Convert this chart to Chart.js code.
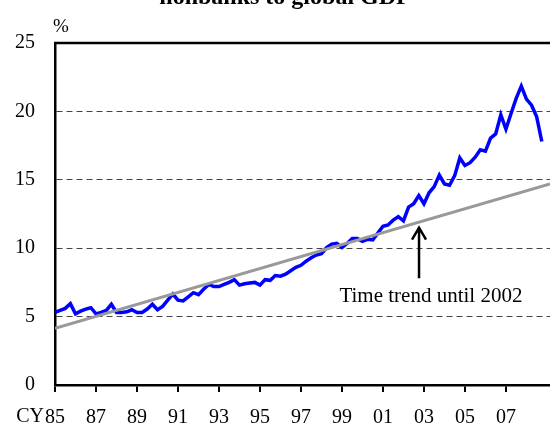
<!DOCTYPE html>
<html>
<head>
<meta charset="utf-8">
<script src="https://cdn.jsdelivr.net/npm/chart.js@4.4.1/dist/chart.umd.min.js"></script>
<style>
  body { margin: 0; background: #fff; }
  canvas { display: block; }
</style>
</head>
<body>
<canvas id="chart" width="550" height="426"></canvas>
<script>
// quarterly data, 1985Q1 .. 2008Q4
const firstYear = 1985;
const lastYear = 2008;
const ratio = [
  5.3, 5.45, 5.6, 5.95, 5.2, 5.4, 5.55, 5.65,
  5.2, 5.3, 5.45, 5.9, 5.3, 5.3, 5.35, 5.5,
  5.3, 5.3, 5.55, 5.9, 5.5, 5.75, 6.2, 6.65,
  6.2, 6.15, 6.45, 6.75, 6.6, 7.0, 7.35, 7.2,
  7.2, 7.35, 7.5, 7.7, 7.3, 7.4, 7.45, 7.5,
  7.3, 7.7, 7.65, 8.0, 7.95, 8.1, 8.35, 8.6,
  8.75, 9.05, 9.3, 9.5, 9.6, 10.05, 10.3, 10.35,
  10.05, 10.35, 10.7, 10.7, 10.5, 10.65, 10.6, 11.1,
  11.6, 11.7, 12.05, 12.3, 12.0, 13.0, 13.25, 13.85,
  13.25, 14.05, 14.5, 15.35, 14.7, 14.6, 15.3, 16.6,
  16.05, 16.25, 16.65, 17.2, 17.1, 18.05, 18.35, 19.75,
  18.7, 19.85, 20.95, 21.85, 20.9, 20.45, 19.6, 17.8
];

// linear time trend fitted until 2002 (end points)
const trendYears = [1985, 2009.15];
const trendValues = [4.15, 14.7];

const xTickYears = [1985, 1987, 1989, 1991, 1993, 1995, 1997, 1999, 2001, 2003, 2005, 2007];
const yTicks = [0, 5, 10, 15, 20, 25];

const quarters = [];
for (let y = firstYear; y <= lastYear; y++) {
  for (let q = 0; q < 4; q++) quarters.push(y + q / 4);
}

const serif = "'Liberation Serif', 'Times New Roman', serif";

const extras = {
  id: 'extras',
  afterDraw(chart) {
    const { ctx, chartArea, scales } = chart;
    const x = scales.x, y = scales.y;
    ctx.save();

    // top frame line
    ctx.strokeStyle = '#000';
    ctx.lineWidth = 2.5;
    ctx.beginPath();
    ctx.moveTo(chartArea.left - 1, chartArea.top);
    ctx.lineTo(chartArea.right, chartArea.top);
    ctx.stroke();

    // title, second line only (cut off at top)
    ctx.fillStyle = '#000';
    ctx.font = 'bold 24px ' + serif;
    ctx.textAlign = 'center';
    ctx.textBaseline = 'alphabetic';
    ctx.fillText('nonbanks to global GDP', 285, 4);

    // unit label
    ctx.font = '19px ' + serif;
    ctx.textAlign = 'left';
    ctx.fillText('%', 53, 32);

    // "CY" before the first year label
    ctx.font = '20px ' + serif;
    ctx.textAlign = 'right';
    ctx.textBaseline = 'middle';
    ctx.fillText('CY', x.getPixelForValue(1985) - 11, 417);

    // annotation arrow
    const ax = x.getPixelForValue(2002.76);
    const yTop = y.getPixelForValue(11.5);
    const yBot = y.getPixelForValue(7.8);
    ctx.strokeStyle = '#000';
    ctx.lineWidth = 2.5;
    ctx.beginPath();
    ctx.moveTo(ax, yBot);
    ctx.lineTo(ax, yTop);
    ctx.moveTo(ax - 7, yTop + 12);
    ctx.lineTo(ax, yTop);
    ctx.lineTo(ax + 7, yTop + 12);
    ctx.stroke();

    ctx.font = '21px ' + serif;
    ctx.textAlign = 'center';
    ctx.fillText('Time trend until 2002', x.getPixelForValue(2003.34), y.getPixelForValue(6.5));
    ctx.restore();
  }
};

new Chart(document.getElementById('chart'), {
  type: 'line',
  data: {
    datasets: [
      {
        label: 'Trend',
        data: trendYears.map((t, i) => ({ x: t, y: trendValues[i] })),
        borderColor: '#999999',
        borderWidth: 3,
        pointRadius: 0,
        tension: 0
      },
      {
        label: 'Ratio',
        data: quarters.map((t, i) => ({ x: t, y: ratio[i] })),
        borderColor: '#0000ff',
        borderWidth: 3.5,
        pointRadius: 0,
        tension: 0
      }
    ]
  },
  options: {
    responsive: false,
    animation: false,
    layout: { padding: { top: 43, right: 0, left: 0, bottom: 0 } },
    plugins: { legend: { display: false }, tooltip: { enabled: false } },
    scales: {
      x: {
        type: 'linear',
        min: 1985,
        max: 2009.15,
        afterBuildTicks(scale) {
          scale.ticks = xTickYears.map(v => ({ value: v }));
        },
        afterFit(scale) { scale.height = 41; },
        ticks: {
          autoSkip: false,
          maxRotation: 0,
          padding: 14,
          color: '#000',
          font: { family: serif, size: 20 },
          callback: v => String(v % 100).padStart(2, '0')
        },
        grid: {
          drawOnChartArea: false,
          drawTicks: true,
          tickLength: 7,
          tickColor: '#000',
          lineWidth: 2
        },
        border: { color: '#000', width: 2.5 }
      },
      y: {
        min: 0,
        max: 25,
        afterBuildTicks(scale) {
          scale.ticks = yTicks.map(v => ({ value: v }));
        },
        afterFit(scale) { scale.width = 55; },
        ticks: {
          padding: 20,
          color: '#000',
          font: { family: serif, size: 20 }
        },
        grid: {
          drawTicks: false,
          color: ctx => (ctx.tick && (ctx.tick.value === 0 || ctx.tick.value === 25)) ? 'rgba(0,0,0,0)' : '#444',
          lineWidth: 1
        },
        border: { color: '#000', width: 2.5, dash: [6, 4] }
      }
    }
  },
  plugins: [extras]
});
</script>
</body>
</html>
